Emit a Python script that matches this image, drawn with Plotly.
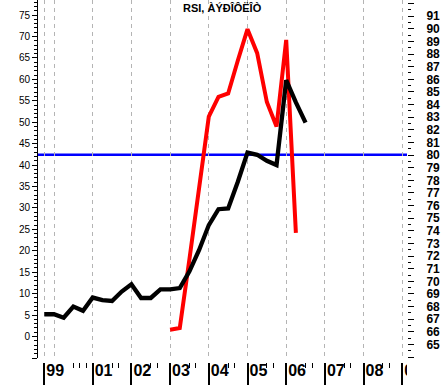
import plotly.graph_objects as go

# ---- data (quarterly) ----
black_dates = ["1999-10", "2000-01", "2000-04", "2000-07", "2000-10",
               "2001-01", "2001-04", "2001-07", "2001-10",
               "2002-01", "2002-04", "2002-07", "2002-10",
               "2003-01", "2003-04", "2003-07", "2003-10",
               "2004-01", "2004-04", "2004-07", "2004-10",
               "2005-01", "2005-04", "2005-07", "2005-10",
               "2006-01", "2006-04", "2006-07"]
black_values = [5.2, 5.2, 4.4, 7.0, 6.0,
                9.1, 8.5, 8.3, 10.5,
                12.2, 9.0, 9.0, 11.0,
                11.0, 11.3, 15.2, 20.2,
                26.0, 29.7, 29.9, 36.1,
                42.9, 42.4, 41.0, 40.0,
                59.8, 54.6, 49.9]

red_dates = ["2003-01", "2003-04", "2003-07", "2003-10",
             "2004-01", "2004-04", "2004-07", "2004-10",
             "2005-01", "2005-04", "2005-07", "2005-10",
             "2006-01", "2006-04"]
red_values = [1.6, 2.0, 18.1, 35.5,
              51.3, 55.9, 56.7, 64.4,
              71.7, 66.1, 54.7, 49.0,
              69.2, 24.2]

blue_level = 42.4

label_years = [1999.75, 2001, 2002, 2003, 2004, 2005, 2006, 2007, 2008, 2009]
label_text = ["99", "01", "02", "03", "04", "05", "06", "07", "08", "09"]
grid_years = [1999.75, 2000, 2001, 2002, 2003, 2004, 2005, 2006, 2007, 2008, 2009]
minor_years = [2000.5, 2000.667, 2000.833] + \
    [y + d for y in range(2001, 2009) for d in (0.5, 0.667)]

left_ticks = list(range(-5, 80, 5))
left_text = [""] + [str(v) for v in range(0, 80, 5)]
right_ticks = list(range(64, 93))
right_text = [""] + [str(v) for v in range(65, 92)] + [""]

title_text = "RSI, ÀÝÐÎÔËÎÒ"


def to_year(s):
    y, m = s.split("-")
    return int(y) + (int(m) - 1) / 12.0


xb = [to_year(d) for d in black_dates]
xr = [to_year(d) for d in red_dates]

XR = [1999.5866, 2009.1214]
YDOM = [4 / 362, 1]

fig = go.Figure()
fig.add_trace(go.Scatter(x=xr, y=red_values, mode="lines",
                         line=dict(color="#ff0000", width=4),
                         hoverinfo="skip", showlegend=False))
fig.add_trace(go.Scatter(x=xb, y=black_values, mode="lines",
                         line=dict(color="#000000", width=4.3),
                         hoverinfo="skip", showlegend=False))
# helper (empty) traces so the extra axes are drawn
fig.add_trace(go.Scatter(x=[], y=[], xaxis="x2", yaxis="y", showlegend=False, hoverinfo="skip"))
fig.add_trace(go.Scatter(x=[], y=[], xaxis="x3", yaxis="y", showlegend=False, hoverinfo="skip"))
fig.add_trace(go.Scatter(x=[], y=[], xaxis="x", yaxis="y2", showlegend=False, hoverinfo="skip"))

fig.add_shape(type="line", xref="paper", x0=0, x1=1, yref="y",
              y0=blue_level, y1=blue_level, layer="between",
              line=dict(color="#0000ff", width=2.5))
# clip the last year label at the plot's right edge, as in the original
fig.add_shape(type="rect", xref="paper", x0=1.0, x1=1.2, yref="paper",
              y0=-0.08, y1=-0.004, layer="above",
              fillcolor="white", line=dict(width=0))

fig.add_annotation(text=title_text, xref="paper", yref="paper", x=0.5, y=1,
                   xanchor="center", yanchor="top", showarrow=False,
                   font=dict(family="Liberation Sans, Arial", size=11, color="black", weight="bold"))

fig.update_layout(
    width=445, height=385,
    margin=dict(l=38, r=38, t=0, b=23, autoexpand=False),
    paper_bgcolor="white", plot_bgcolor="white",
    showlegend=False,
    xaxis=dict(range=XR, showline=False, zeroline=False, automargin=False,
               tickmode="array", tickvals=grid_years, showticklabels=False, ticks="",
               showgrid=True, gridcolor="#b4b4b4", griddash="4px,4px", gridwidth=1),
    xaxis2=dict(range=XR, overlaying="x", anchor="free", position=0, side="bottom",
                showline=False, zeroline=False, showgrid=False, automargin=False,
                tickmode="array", tickvals=label_years, showticklabels=False,
                ticks="outside", ticklen=23, tickwidth=1.5, tickcolor="black",
                minor=dict(tickmode="array", tickvals=minor_years, ticks="outside",
                           ticklen=5, tickwidth=1, tickcolor="black", showgrid=False)),
    xaxis3=dict(range=XR, overlaying="x", anchor="free", position=0.008, side="bottom",
                showline=False, zeroline=False, showgrid=False, automargin=False,
                tickmode="array", tickvals=label_years, ticktext=label_text,
                ticks="", ticklabelposition="outside right", ticklabelshift=2,
                tickfont=dict(family="Liberation Sans, Arial",
                              size=16, color="black", weight="bold")),
    yaxis=dict(range=[-5, 78.5], domain=YDOM, showline=True, linecolor="black", linewidth=1,
               zeroline=False, showgrid=False, automargin=False,
               tickmode="array", tickvals=left_ticks, ticktext=left_text,
               ticks="outside", ticklen=5, tickcolor="black", tickwidth=1,
               tickfont=dict(family="Liberation Sans, Arial", size=10, color="black"),
               minor=dict(dtick=1, tick0=0, ticks="outside", ticklen=3, tickcolor="black", showgrid=False)),
    yaxis2=dict(range=[63.93, 92.28], domain=YDOM, overlaying="y", side="right", anchor="x",
                showline=False, zeroline=False, showgrid=False, automargin=False,
                tickmode="array", tickvals=right_ticks, ticktext=right_text,
                ticks="outside", ticklen=6, tickcolor="black", tickwidth=1,
                ticklabelstandoff=10,
                tickfont=dict(family="Liberation Sans, Arial", size=12, color="black", weight="bold"),
                minor=dict(dtick=0.5, tick0=0, ticks="outside", ticklen=3, tickcolor="black", showgrid=False)),
)

fig.write_html("out.html", config={"displayModeBar": False},
               post_script="document.body.style.margin='0';")
